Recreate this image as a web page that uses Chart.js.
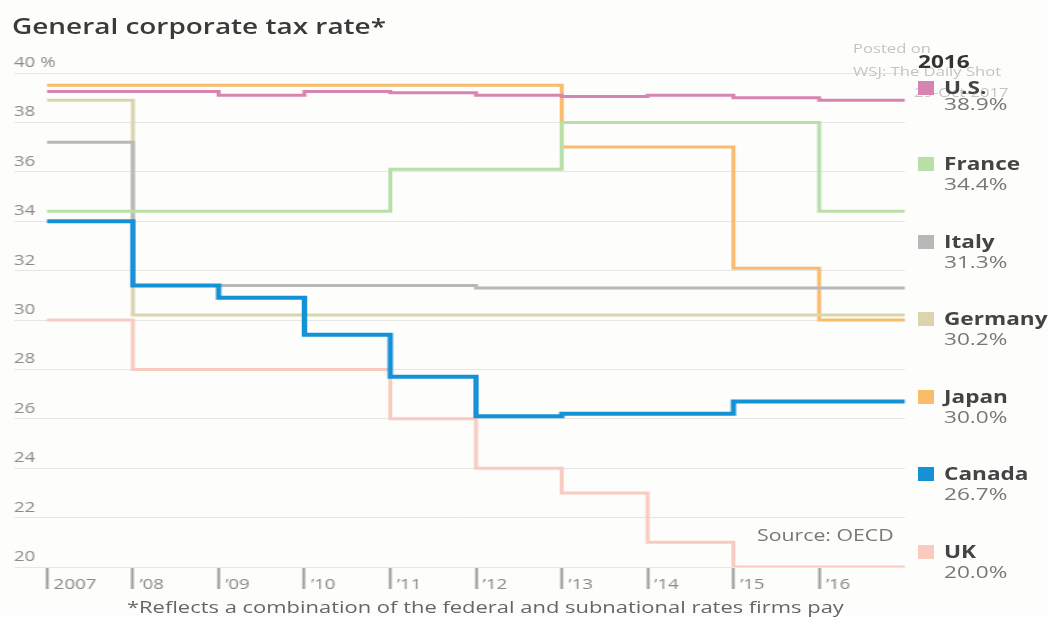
<!DOCTYPE html>
<html>
<head>
<meta charset="utf-8">
<script src="https://cdn.jsdelivr.net/npm/chart.js@4.4.1/dist/chart.umd.min.js"></script>
<style>
  html, body { margin: 0; padding: 0; background: #fdfdfb; }
  #wrap { position: relative; width: 1049px; height: 617px; overflow: hidden; font-family: "Open Sans", sans-serif; }
  #chart { position: absolute; left: 0; top: 0; }
  .wide { transform: scaleX(1.3295); transform-origin: 0 0; white-space: nowrap; }
  .title { position: absolute; left: 12px; top: 12px; font-size: 21px; font-weight: 600; color: #3a3a3a; }
  .note { position: absolute; left: 127px; top: 595px; font-size: 16.5px; color: #666; }
  .source { position: absolute; left: 757px; top: 524px; font-size: 16px; color: #777; }
  .mark { position: absolute; font-size: 12.5px; color: #c4c4c4; }
  .year { position: absolute; left: 918px; top: 50px; font-size: 17px; font-weight: 700; color: #333; }
  .item { position: absolute; left: 918px; }
  .item .sq { position: absolute; left: 0; top: 5px; width: 16px; height: 14px; }
  .item .name { position: absolute; left: 26px; top: 0; font-size: 17px; font-weight: 700; color: #444; }
  .item .val { position: absolute; left: 26px; font-size: 17px; color: #777; }
</style>
</head>
<body>
<div id="wrap">
  <!-- the original picture is stretched sideways, so the canvas is drawn narrow and widened -->
  <canvas id="chart" width="789" height="617" style="width:1049px; height:617px;"></canvas>
  <div class="title wide">General corporate tax rate*</div>
  <div class="mark wide" style="left:853px; top:40px;">Posted on</div>
  <div class="mark wide" style="left:853px; top:63px;">WSJ: The Daily Shot</div>
  <div class="mark wide" style="left:914px; top:84px;">29-Oct-2017</div>
  <div class="year wide">2016</div>
  <div id="legend"></div>
  <div class="source wide">Source: OECD</div>
  <div class="note wide">*Reflects a combination of the federal and subnational rates firms pay</div>
</div>
<script>
// years on the x axis (each value holds until the next year)
const years = [2007, 2008, 2009, 2010, 2011, 2012, 2013, 2014, 2015, 2016];
const yTicks = [20, 22, 24, 26, 28, 30, 32, 34, 36, 38, 40];

const countries = ['U.S.', 'France', 'Italy', 'Germany', 'Japan', 'Canada', 'UK'];
const colors = ['#d884b3', '#b9dfa9', '#b8b8b8', '#d9d5ad', '#f9bb6c', '#1591d6', '#f9cbc0'];

const us      = [39.25, 39.25, 39.1, 39.25, 39.2, 39.1, 39.05, 39.1, 39.0, 38.9];
const france  = [34.4, 34.4, 34.4, 34.4, 36.1, 36.1, 38.0, 38.0, 38.0, 34.4];
const italy   = [37.2, 31.4, 31.4, 31.4, 31.4, 31.3, 31.3, 31.3, 31.3, 31.3];
const germany = [38.9, 30.2, 30.2, 30.2, 30.2, 30.2, 30.2, 30.2, 30.2, 30.2];
const japan   = [39.5, 39.5, 39.5, 39.5, 39.5, 39.5, 37.0, 37.0, 32.1, 30.0];
const canada  = [34.0, 31.4, 30.9, 29.4, 27.7, 26.1, 26.2, 26.2, 26.7, 26.7];
const uk      = [30.0, 28.0, 28.0, 28.0, 26.0, 24.0, 23.0, 21.0, 20.0, 20.0];

const series = [us, france, italy, germany, japan, canada, uk];

// legend rows on the right (top of each row and of its value, px)
const legendTops = [76, 152, 230, 307, 385, 462, 540];
const valueGaps = [16, 20, 20, 20, 20, 20, 20];

const SX = 1049 / 789; // horizontal stretch of the canvas

// last value is held to the end of 2016
function steps(values) {
    const pts = years.map((yr, i) => ({ x: yr, y: values[i] }));
    pts.push({ x: years[years.length - 1] + 1, y: values[values.length - 1] });
    return pts;
}

/* =========================
   LEGEND
========================== */
const legend = document.getElementById('legend');
countries.forEach((name, i) => {
    const last = series[i][series[i].length - 1];
    const row = document.createElement('div');
    row.className = 'item';
    row.style.top = legendTops[i] + 'px';
    row.innerHTML = '<div class="sq" style="background:' + colors[i] + '"></div>' +
        '<div class="name wide">' + name + '</div>' +
        '<div class="val wide" style="top:' + valueGaps[i] + 'px">' + last.toFixed(1) + '%</div>';
    legend.appendChild(row);
});

/* =========================
   STEP LINES
========================== */
new Chart(document.getElementById('chart'), {
    type: 'line',
    data: {
        datasets: countries.map((name, i) => ({
            label: name,
            data: steps(series[i]),
            borderColor: colors[i],
            borderWidth: name === 'Canada' ? 4 : 3,
            stepped: true,
            pointRadius: 0,
            fill: false,
            order: name === 'Canada' ? 0 : i + 1
        }))
    },
    options: {
        responsive: false,
        animation: false,
        devicePixelRatio: 1,
        layout: {
            padding: { left: 14 / SX, right: 144 / SX, top: 73, bottom: 0 }
        },
        plugins: {
            legend: { display: false },
            tooltip: { enabled: false }
        },
        scales: {
            x: {
                type: 'linear',
                min: 2006.615,
                max: 2017,
                afterBuildTicks: s => { s.ticks = years.map(v => ({ value: v })); },
                afterFit: s => { s.height = 50; },
                border: { display: false },
                grid: {
                    drawOnChartArea: false,
                    drawTicks: true,
                    tickLength: 22,
                    tickColor: '#9a9a9a',
                    tickWidth: 2
                },
                ticks: {
                    autoSkip: false,
                    maxRotation: 0,
                    align: 'start',
                    labelOffset: 5,
                    padding: -12,
                    color: '#888',
                    font: { family: 'Open Sans', size: 14 },
                    callback: v => v === 2007 ? '2007' : '\u2019' + String(v).slice(2)
                }
            },
            y: {
                min: 20,
                max: 40,
                afterBuildTicks: s => { s.ticks = yTicks.map(v => ({ value: v })); },
                afterFit: s => { s.width = 0; },
                border: { display: false },
                grid: {
                    color: '#e6e6e6',
                    lineWidth: 1,
                    drawTicks: false
                },
                ticks: {
                    mirror: true,
                    padding: 0,
                    labelOffset: -10,
                    color: '#8a8a8a',
                    font: { family: 'Open Sans', size: 14 },
                    callback: v => v === 40 ? '40 %' : v
                }
            }
        }
    }
});
</script>
</body>
</html>
